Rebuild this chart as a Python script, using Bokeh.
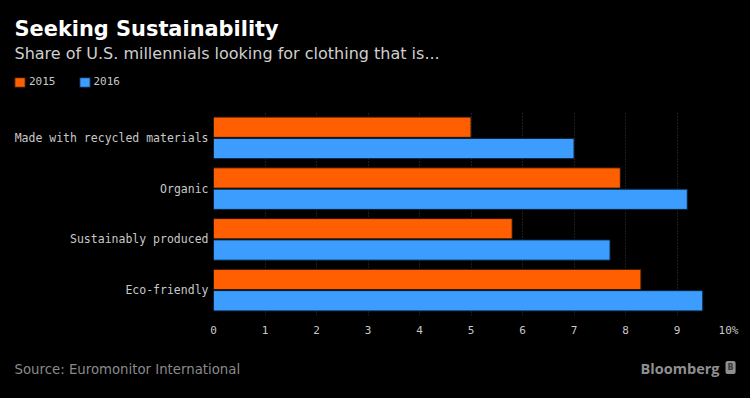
from bokeh.plotting import figure
from bokeh.models import (FactorRange, Range1d, Label, Legend, LegendItem,
                          SingleIntervalTicker, ColumnDataSource)
from bokeh.layouts import column
from bokeh.transform import dodge
from bokeh.embed import file_html
from bokeh.resources import INLINE

# ---- data ----
categories = ["Made with recycled materials", "Organic", "Sustainably produced", "Eco-friendly"]
share_2015 = [5.0, 7.9, 5.8, 8.3]
share_2016 = [7.0, 9.2, 7.7, 9.5]
years = ["2015", "2016"]
x_max = 10

title_text = "Seeking Sustainability"
subtitle_text = "Share of U.S. millennials looking for clothing that is..."
source_text = "Source: Euromonitor International"
brand_text = "Bloomberg"

ORANGE = "#FF5F00"
BLUE = "#3D9DFF"
BG = "#000000"
W = 750


def blank(height):
    f = figure(width=W, height=height, x_range=Range1d(0, W), y_range=Range1d(0, height),
               min_border=0, output_backend="svg", toolbar_location=None,
               background_fill_color=BG, border_fill_color=BG, outline_line_color=None)
    f.axis.visible = False
    f.grid.grid_line_color = None
    f.frame_align = False
    return f


# ---- header ----
head = blank(100)
head.add_layout(Label(x=14, y=72, x_units="screen", y_units="screen", text=title_text,
                      text_font="DejaVu Sans", text_font_style="bold", text_font_size="20.9px",
                      text_color="#ffffff", text_baseline="alphabetic"))
head.add_layout(Label(x=14, y=47, x_units="screen", y_units="screen", text=subtitle_text,
                      text_font="DejaVu Sans", text_font_size="16px",
                      text_color="#cfcfcf", text_baseline="alphabetic"))
nan = float("nan")
k15 = head.hbar(y=[nan], right=[nan], height=1, fill_color=ORANGE, line_color="#2a1400")
k16 = head.hbar(y=[nan], right=[nan], height=1, fill_color=BLUE, line_color="#0a2038")
legend = Legend(items=[LegendItem(label=years[0], renderers=[k15]),
                       LegendItem(label=years[1], renderers=[k16])],
                orientation="horizontal", location=(13, 12),
                glyph_width=13, glyph_height=12, label_standoff=3, spacing=22,
                padding=0, margin=0, label_height=12,
                background_fill_alpha=0, border_line_color=None,
                label_text_font="DejaVu Sans Mono", label_text_font_size="11px",
                label_text_color="#c8c8c8")
head.add_layout(legend)

# ---- main chart ----
src = ColumnDataSource(dict(cat=categories, v2015=share_2015, v2016=share_2016))
p = figure(y_range=FactorRange(factors=list(reversed(categories)), range_padding=0),
           x_range=Range1d(0, x_max),
           frame_width=515, frame_height=203,
           min_border_left=213, min_border_right=22,
           min_border_top=12, min_border_bottom=30,
           output_backend="svg", toolbar_location=None,
           background_fill_color=BG, border_fill_color=BG,
           outline_line_color=None)

p.hbar(y=dodge("cat", 0.21, range=p.y_range), right="v2015", left=0, height=0.4,
       source=src, fill_color=ORANGE, line_color="#2a1400", line_width=1)
p.hbar(y=dodge("cat", -0.21, range=p.y_range), right="v2016", left=0, height=0.4,
       source=src, fill_color=BLUE, line_color="#0a2038", line_width=1)

p.xaxis.ticker = SingleIntervalTicker(interval=1)
p.xaxis.major_label_overrides = {10: "10%"}
for ax in (p.xaxis, p.yaxis):
    ax.axis_line_color = None
    ax.major_tick_line_color = None
    ax.minor_tick_line_color = None
    ax.major_tick_out = 0
    ax.major_tick_in = 0
    ax.minor_tick_out = 0
    ax.major_label_text_font = "DejaVu Sans Mono"
    ax.major_label_text_color = "#c8c8c8"
p.xaxis.major_label_text_font_size = "11px"
p.yaxis.major_label_text_font_size = "11.5px"
p.xaxis.major_label_standoff = 8
p.yaxis.major_label_standoff = 5

p.ygrid.grid_line_color = None
p.xgrid.grid_line_color = "#3c3c3c"
p.xgrid.grid_line_dash = "1 2"
p.xgrid.grid_line_width = 1

# ---- footer ----
foot = blank(53)
foot.add_layout(Label(x=14, y=29, x_units="screen", y_units="screen", text=source_text,
                      text_font="DejaVu Sans", text_font_size="13.3px",
                      text_color="#8a8a8a", text_baseline="alphabetic"))
foot.add_layout(Label(x=719, y=30, x_units="screen", y_units="screen", text=brand_text,
                      text_font="Open Sans", text_font_style="bold", text_font_size="14.5px",
                      text_color="#8f8f8f", text_baseline="alphabetic", text_align="right"))
foot.add_layout(Label(x=725, y=31, x_units="screen", y_units="screen", text="B",
                      text_font="DejaVu Sans", text_font_style="bold", text_font_size="8px",
                      text_color="#3a3a3a", text_baseline="alphabetic", text_align="left",
                      background_fill_color="#8f8f8f", padding=2, border_radius=2))

layout = column(head, p, foot, spacing=0, background=BG)
html = file_html(layout, INLINE, title="Seeking Sustainability")
html = html.replace("<head>", "<head><style>html,body{background:#000000;}</style>", 1)
open("out.html", "w").write(html)
